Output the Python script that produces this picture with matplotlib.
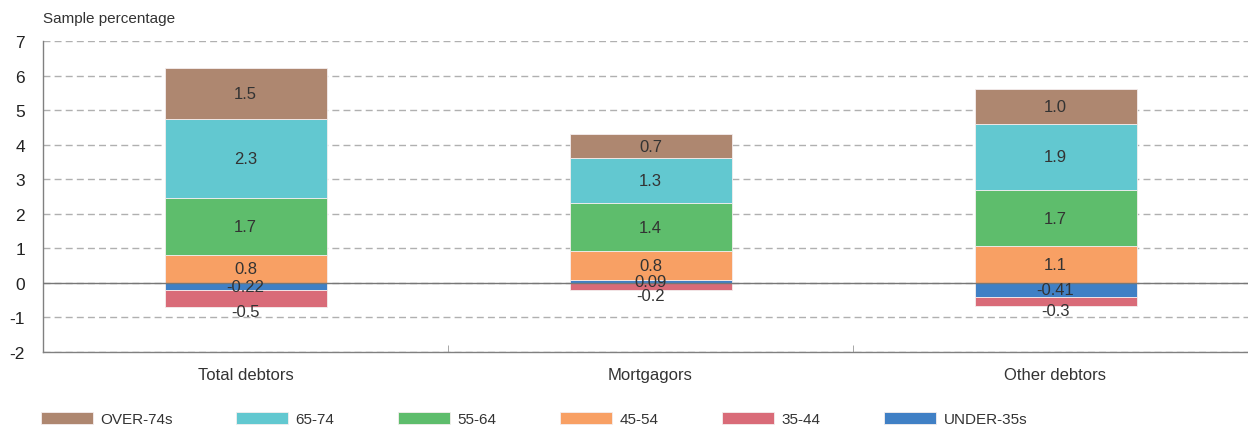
import matplotlib
matplotlib.use("Agg")
import matplotlib.pyplot as plt
import numpy as np

plt.rcParams["font.family"] = ["Liberation Sans", "DejaVu Sans"]
plt.rcParams["axes.unicode_minus"] = False

categories = ["Total debtors", "Mortgagors", "Other debtors"]

# age groups, bottom of stack first
groups = ["UNDER-35s", "35-44", "45-54", "55-64", "65-74", "OVER-74s"]
colors = ["#4080c5", "#d96b78", "#f8a064", "#5ebd6c", "#62c8d0", "#ae8770"]

under35 = [-0.22, 0.09, -0.40]
age35_44 = [-0.48, -0.22, -0.27]
age45_54 = [0.81, 0.82, 1.06]
age55_64 = [1.65, 1.39, 1.63]
age65_74 = [2.29, 1.31, 1.92]
over74 = [1.48, 0.69, 1.01]

under35_lbl = ["-0.22", "0.09", "-0.41"]
age35_44_lbl = ["-0.5", "-0.2", "-0.3"]
age45_54_lbl = ["0.8", "0.8", "1.1"]
age55_64_lbl = ["1.7", "1.4", "1.7"]
age65_74_lbl = ["2.3", "1.3", "1.9"]
over74_lbl = ["1.5", "0.7", "1.0"]

series = [under35, age35_44, age45_54, age55_64, age65_74, over74]
labels = [under35_lbl, age35_44_lbl, age45_54_lbl, age55_64_lbl,
          age65_74_lbl, over74_lbl]

fig = plt.figure(figsize=(12.48, 4.27), dpi=100)
ax = fig.add_axes([43 / 1248, 1 - 353 / 427, 1215 / 1248, 311 / 427])

x = np.arange(len(categories))
pos_base = np.zeros(len(categories))
neg_base = np.zeros(len(categories))
handles = []
for name, vals, lbls, col in zip(groups, series, labels, colors):
    vals = np.array(vals)
    bottoms = np.where(vals >= 0, pos_base, neg_base)
    b = ax.bar(x, vals, 0.4, bottom=bottoms, color=col, edgecolor="#f4eeee",
               linewidth=0.6, zorder=2, label=name)
    handles.append(b)
    for i in range(len(x)):
        if name == "35-44" and vals[i] < 0:
            # these sit just under the bar
            ax.annotate(lbls[i], (x[i], bottoms[i] + vals[i]), xytext=(0, -3.5),
                        textcoords="offset points", ha="center", va="center",
                        fontsize=12, color="#333333", zorder=4)
        else:
            ax.text(x[i], bottoms[i] + vals[i] / 2, lbls[i], ha="center",
                    va="center", fontsize=12, color="#333333", zorder=4)
    pos_base = pos_base + np.where(vals >= 0, vals, 0)
    neg_base = neg_base + np.where(vals < 0, vals, 0)

ax.axhline(0, color="#777777", linewidth=1, zorder=3)

ax.set_xlim(-0.5, 2.5)
ax.set_ylim(-2, 7)
ax.set_yticks(np.arange(-2, 8))
ax.set_xticks(x)
ax.set_xticklabels(categories, fontsize=12, color="#333333")
ax.set_xticks([-0.5, 0.5, 1.5, 2.5], minor=True)
ax.tick_params(axis="x", which="major", length=0, pad=11)
ax.tick_params(axis="x", which="minor", direction="in", length=5,
               color="#999999")
ax.tick_params(axis="y", length=0, pad=13, labelsize=12.5, labelcolor="#222222")

ax.yaxis.grid(True, linestyle=(0, (5, 3)), color="#b0b0b0", linewidth=1)
ax.set_axisbelow(True)
for s in ["top", "right"]:
    ax.spines[s].set_visible(False)
for s in ["left", "bottom"]:
    ax.spines[s].set_color("#808080")
    ax.spines[s].set_linewidth(1)

fig.text(43 / 1248, 1 - 19 / 427, "Sample percentage", fontsize=11,
         color="#333333", va="center", ha="left")

fig.legend(handles[::-1], groups[::-1], loc="center left",
           bbox_to_anchor=(33 / 1248, 1 - 420 / 427), ncol=6, frameon=False,
           fontsize=11, borderpad=0, handlelength=3.4, handleheight=0.8,
           handletextpad=0.5, columnspacing=4.15, labelcolor="#333333")

fig.savefig("out.png", dpi=100)
